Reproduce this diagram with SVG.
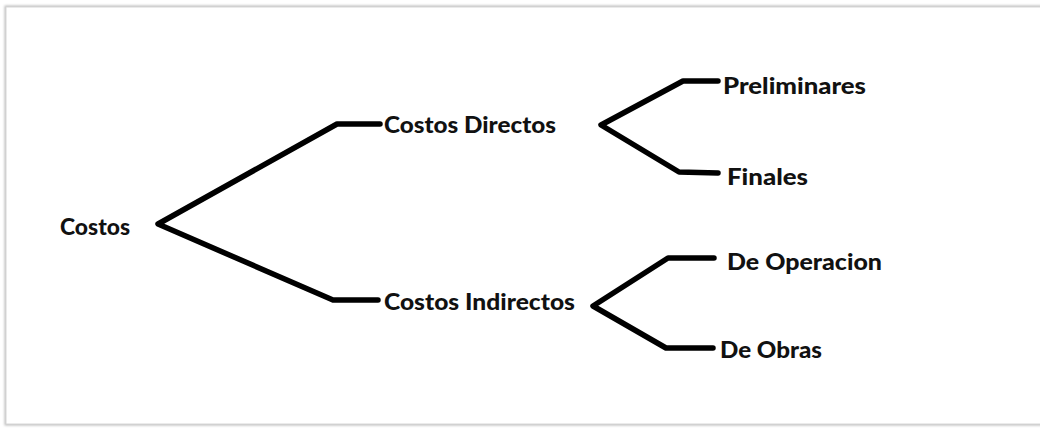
<svg xmlns="http://www.w3.org/2000/svg" width="1040" height="429" viewBox="0 0 1040 429">
  <defs>
    <filter id="soft" x="-5%" y="-5%" width="110%" height="110%">
      <feGaussianBlur stdDeviation="1.2"/>
    </filter>
  </defs>
  <style>
    .lbl { font-family: Lato, "Liberation Sans", sans-serif; font-weight: 900; font-size: 23px; fill: #111; }
    .branch { fill: none; stroke: #000; stroke-width: 5.5; stroke-linejoin: round; stroke-linecap: round; }
  </style>
  <rect x="0" y="0" width="1040" height="429" fill="#ffffff"/>
  <!-- frame with a soft grey edge -->
  <rect x="6" y="7" width="1040" height="417" fill="none" stroke="#bdbdbd" stroke-width="3" filter="url(#soft)"/>
  <rect x="6" y="7" width="1040" height="417" fill="#ffffff" stroke="#d6d6d6" stroke-width="1"/>

  <g id="connectors">
    <polyline class="branch" points="380,124 337,124 158,224 333,300 378,300"/>
    <polyline class="branch" points="718,81 683,81 601,125 679,172 718,173"/>
    <polyline class="branch" points="714,258 668,258 593,306 666,348 713,348"/>
  </g>

  <g id="n-costos"><text class="lbl" x="60" y="235" textLength="70" lengthAdjust="spacingAndGlyphs">Costos</text></g>
  <g id="n-directos"><text class="lbl" x="384" y="133" textLength="172" lengthAdjust="spacingAndGlyphs">Costos Directos</text></g>
  <g id="n-indirectos"><text class="lbl" x="384" y="310" textLength="191" lengthAdjust="spacingAndGlyphs">Costos Indirectos</text></g>
  <g id="n-preliminares"><text class="lbl" x="723" y="94" textLength="143" lengthAdjust="spacingAndGlyphs">Preliminares</text></g>
  <g id="n-finales"><text class="lbl" x="727" y="185" textLength="81" lengthAdjust="spacingAndGlyphs">Finales</text></g>
  <g id="n-operacion"><text class="lbl" x="727" y="270" textLength="155" lengthAdjust="spacingAndGlyphs">De Operacion</text></g>
  <g id="n-obras"><text class="lbl" x="720" y="358" textLength="102" lengthAdjust="spacingAndGlyphs">De Obras</text></g>
</svg>
